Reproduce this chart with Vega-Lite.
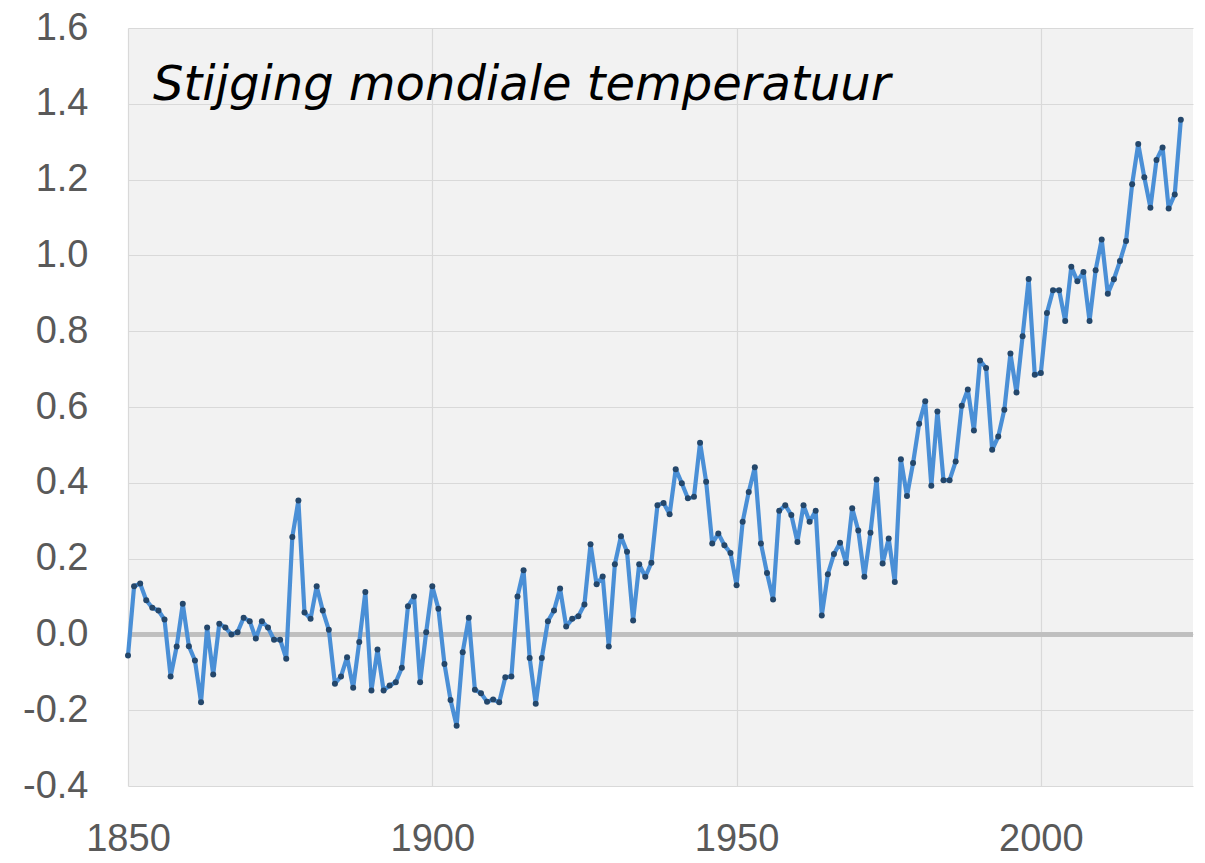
{
  "$schema": "https://vega.github.io/schema/vega-lite/v6.json",
  "autosize": {"type": "none"},
  "padding": {"left": 128, "top": 28, "right": 12, "bottom": 77},
  "width": 1065,
  "height": 758,
  "background": "#ffffff",
  "config": {
    "view": {"fill": "#f2f2f2", "stroke": null},
    "axis": {
      "labelFont": "Liberation Sans",
      "labelFontSize": 38,
      "labelColor": "#595959",
      "domain": false,
      "ticks": false,
      "grid": true,
      "gridColor": "#d9d9d9",
      "gridWidth": 1.2,
      "title": null
    }
  },
  "datasets": {
    "temps": [
      {"year": 1850, "anomaly": -0.056}, {"year": 1851, "anomaly": 0.127}, {"year": 1852, "anomaly": 0.134},
      {"year": 1853, "anomaly": 0.09}, {"year": 1854, "anomaly": 0.07}, {"year": 1855, "anomaly": 0.063},
      {"year": 1856, "anomaly": 0.039}, {"year": 1857, "anomaly": -0.111}, {"year": 1858, "anomaly": -0.032},
      {"year": 1859, "anomaly": 0.081}, {"year": 1860, "anomaly": -0.031}, {"year": 1861, "anomaly": -0.069},
      {"year": 1862, "anomaly": -0.179}, {"year": 1863, "anomaly": 0.018}, {"year": 1864, "anomaly": -0.106},
      {"year": 1865, "anomaly": 0.028}, {"year": 1866, "anomaly": 0.018}, {"year": 1867, "anomaly": 0.0},
      {"year": 1868, "anomaly": 0.006}, {"year": 1869, "anomaly": 0.044}, {"year": 1870, "anomaly": 0.035},
      {"year": 1871, "anomaly": -0.011}, {"year": 1872, "anomaly": 0.035}, {"year": 1873, "anomaly": 0.018},
      {"year": 1874, "anomaly": -0.014}, {"year": 1875, "anomaly": -0.014}, {"year": 1876, "anomaly": -0.064},
      {"year": 1877, "anomaly": 0.257}, {"year": 1878, "anomaly": 0.353}, {"year": 1879, "anomaly": 0.058},
      {"year": 1880, "anomaly": 0.041}, {"year": 1881, "anomaly": 0.127}, {"year": 1882, "anomaly": 0.063},
      {"year": 1883, "anomaly": 0.012}, {"year": 1884, "anomaly": -0.13}, {"year": 1885, "anomaly": -0.111},
      {"year": 1886, "anomaly": -0.06}, {"year": 1887, "anomaly": -0.141}, {"year": 1888, "anomaly": -0.02},
      {"year": 1889, "anomaly": 0.112}, {"year": 1890, "anomaly": -0.148}, {"year": 1891, "anomaly": -0.04},
      {"year": 1892, "anomaly": -0.148}, {"year": 1893, "anomaly": -0.135}, {"year": 1894, "anomaly": -0.126},
      {"year": 1895, "anomaly": -0.088}, {"year": 1896, "anomaly": 0.074}, {"year": 1897, "anomaly": 0.1},
      {"year": 1898, "anomaly": -0.126}, {"year": 1899, "anomaly": 0.006}, {"year": 1900, "anomaly": 0.127},
      {"year": 1901, "anomaly": 0.068}, {"year": 1902, "anomaly": -0.078}, {"year": 1903, "anomaly": -0.173},
      {"year": 1904, "anomaly": -0.241}, {"year": 1905, "anomaly": -0.047}, {"year": 1906, "anomaly": 0.044},
      {"year": 1907, "anomaly": -0.146}, {"year": 1908, "anomaly": -0.155}, {"year": 1909, "anomaly": -0.178},
      {"year": 1910, "anomaly": -0.172}, {"year": 1911, "anomaly": -0.179}, {"year": 1912, "anomaly": -0.113},
      {"year": 1913, "anomaly": -0.111}, {"year": 1914, "anomaly": 0.1}, {"year": 1915, "anomaly": 0.169},
      {"year": 1916, "anomaly": -0.062}, {"year": 1917, "anomaly": -0.183}, {"year": 1918, "anomaly": -0.062},
      {"year": 1919, "anomaly": 0.035}, {"year": 1920, "anomaly": 0.063}, {"year": 1921, "anomaly": 0.121},
      {"year": 1922, "anomaly": 0.021}, {"year": 1923, "anomaly": 0.041}, {"year": 1924, "anomaly": 0.048},
      {"year": 1925, "anomaly": 0.079}, {"year": 1926, "anomaly": 0.238}, {"year": 1927, "anomaly": 0.132},
      {"year": 1928, "anomaly": 0.153}, {"year": 1929, "anomaly": -0.032}, {"year": 1930, "anomaly": 0.185},
      {"year": 1931, "anomaly": 0.259}, {"year": 1932, "anomaly": 0.218}, {"year": 1933, "anomaly": 0.037},
      {"year": 1934, "anomaly": 0.185}, {"year": 1935, "anomaly": 0.152}, {"year": 1936, "anomaly": 0.189},
      {"year": 1937, "anomaly": 0.341}, {"year": 1938, "anomaly": 0.347}, {"year": 1939, "anomaly": 0.317},
      {"year": 1940, "anomaly": 0.436}, {"year": 1941, "anomaly": 0.399}, {"year": 1942, "anomaly": 0.359},
      {"year": 1943, "anomaly": 0.363}, {"year": 1944, "anomaly": 0.506}, {"year": 1945, "anomaly": 0.403},
      {"year": 1946, "anomaly": 0.24}, {"year": 1947, "anomaly": 0.266}, {"year": 1948, "anomaly": 0.235},
      {"year": 1949, "anomaly": 0.215}, {"year": 1950, "anomaly": 0.13}, {"year": 1951, "anomaly": 0.297},
      {"year": 1952, "anomaly": 0.376}, {"year": 1953, "anomaly": 0.441}, {"year": 1954, "anomaly": 0.24},
      {"year": 1955, "anomaly": 0.162}, {"year": 1956, "anomaly": 0.092}, {"year": 1957, "anomaly": 0.326},
      {"year": 1958, "anomaly": 0.341}, {"year": 1959, "anomaly": 0.315}, {"year": 1960, "anomaly": 0.244},
      {"year": 1961, "anomaly": 0.341}, {"year": 1962, "anomaly": 0.297}, {"year": 1963, "anomaly": 0.326},
      {"year": 1964, "anomaly": 0.05}, {"year": 1965, "anomaly": 0.159}, {"year": 1966, "anomaly": 0.212},
      {"year": 1967, "anomaly": 0.242}, {"year": 1968, "anomaly": 0.188}, {"year": 1969, "anomaly": 0.333},
      {"year": 1970, "anomaly": 0.274}, {"year": 1971, "anomaly": 0.152}, {"year": 1972, "anomaly": 0.268},
      {"year": 1973, "anomaly": 0.409}, {"year": 1974, "anomaly": 0.187}, {"year": 1975, "anomaly": 0.253},
      {"year": 1976, "anomaly": 0.138}, {"year": 1977, "anomaly": 0.462}, {"year": 1978, "anomaly": 0.365},
      {"year": 1979, "anomaly": 0.452}, {"year": 1980, "anomaly": 0.556}, {"year": 1981, "anomaly": 0.615},
      {"year": 1982, "anomaly": 0.392}, {"year": 1983, "anomaly": 0.588}, {"year": 1984, "anomaly": 0.407},
      {"year": 1985, "anomaly": 0.407}, {"year": 1986, "anomaly": 0.456}, {"year": 1987, "anomaly": 0.603},
      {"year": 1988, "anomaly": 0.646}, {"year": 1989, "anomaly": 0.538}, {"year": 1990, "anomaly": 0.723},
      {"year": 1991, "anomaly": 0.703}, {"year": 1992, "anomaly": 0.487}, {"year": 1993, "anomaly": 0.522},
      {"year": 1994, "anomaly": 0.593}, {"year": 1995, "anomaly": 0.741}, {"year": 1996, "anomaly": 0.638},
      {"year": 1997, "anomaly": 0.787}, {"year": 1998, "anomaly": 0.938}, {"year": 1999, "anomaly": 0.685},
      {"year": 2000, "anomaly": 0.69}, {"year": 2001, "anomaly": 0.848}, {"year": 2002, "anomaly": 0.908},
      {"year": 2003, "anomaly": 0.908}, {"year": 2004, "anomaly": 0.827}, {"year": 2005, "anomaly": 0.97},
      {"year": 2006, "anomaly": 0.932}, {"year": 2007, "anomaly": 0.956}, {"year": 2008, "anomaly": 0.827},
      {"year": 2009, "anomaly": 0.961}, {"year": 2010, "anomaly": 1.042}, {"year": 2011, "anomaly": 0.899},
      {"year": 2012, "anomaly": 0.937}, {"year": 2013, "anomaly": 0.985}, {"year": 2014, "anomaly": 1.038},
      {"year": 2015, "anomaly": 1.188}, {"year": 2016, "anomaly": 1.294}, {"year": 2017, "anomaly": 1.206},
      {"year": 2018, "anomaly": 1.126}, {"year": 2019, "anomaly": 1.252}, {"year": 2020, "anomaly": 1.285},
      {"year": 2021, "anomaly": 1.124}, {"year": 2022, "anomaly": 1.161}, {"year": 2023, "anomaly": 1.358}
    ],
    "heading": [
      {"label": "Stijging mondiale temperatuur"}
    ]
  },
  "data": {"name": "temps"},
  "layer": [
    {
      "mark": {"type": "rule", "color": "#bfbfbf", "strokeWidth": 3.5},
      "encoding": {"y": {"datum": 0, "type": "quantitative"}}
    },
    {
      "mark": {"type": "line", "color": "#4a8fd6", "strokeWidth": 4.2, "strokeJoin": "round"},
      "encoding": {
        "x": {
          "field": "year", "type": "quantitative",
          "scale": {"domain": [1850, 2025], "nice": false, "zero": false},
          "axis": {"values": [1850, 1900, 1950, 2000], "format": "d", "labelPadding": 34, "labelFlush": false}
        },
        "y": {
          "field": "anomaly", "type": "quantitative",
          "scale": {"domain": [-0.4, 1.6], "nice": false, "zero": false},
          "axis": {
            "values": [-0.4, -0.2, 0, 0.2, 0.4, 0.6, 0.8, 1.0, 1.2, 1.4, 1.6],
            "labelExpr": "replace(format(datum.value, '.1f'), '−', '-')",
            "labelPadding": 40
          }
        }
      }
    },
    {
      "mark": {"type": "circle", "color": "#24476b", "size": 36, "opacity": 1},
      "encoding": {
        "x": {"field": "year", "type": "quantitative"},
        "y": {"field": "anomaly", "type": "quantitative"}
      }
    },
    {
      "data": {"name": "heading"},
      "mark": {
        "type": "text",
        "align": "left",
        "baseline": "alphabetic",
        "font": "DejaVu Sans",
        "fontStyle": "italic",
        "fontWeight": "normal",
        "fontSize": 48,
        "color": "#000000"
      },
      "encoding": {
        "x": {"datum": 1854.1, "type": "quantitative"},
        "y": {"datum": 1.41, "type": "quantitative"},
        "text": {"field": "label", "type": "nominal"}
      }
    }
  ]
}
